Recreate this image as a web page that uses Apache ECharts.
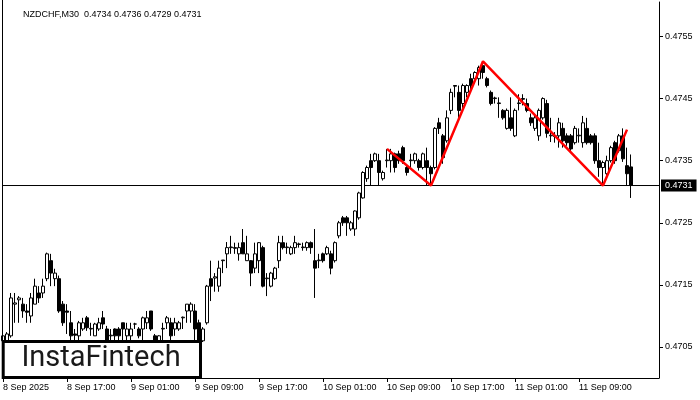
<!DOCTYPE html>
<html><head><meta charset="utf-8">
<script src="https://cdn.jsdelivr.net/npm/echarts@6/dist/echarts.min.js"></script>
<style>html,body{margin:0;padding:0;background:#fff}#c{width:700px;height:400px}</style>
</head><body><div id="c"></div>
<script>
const symbolTitle = 'NZDCHF,M30  0.4734 0.4736 0.4729 0.4731';
const timeTickLabels = ['8 Sep 2025','8 Sep 17:00','9 Sep 01:00','9 Sep 09:00','9 Sep 17:00','10 Sep 01:00','10 Sep 09:00','10 Sep 17:00','11 Sep 01:00','11 Sep 09:00'];
const barsPerTick = 16;
const priceTicks = [0.4705,0.4715,0.4725,0.4735,0.4745,0.4755];
const currentPrice = 0.4731;

const opens = [
0.47060,0.47060,0.47068,0.47119,0.47126,0.47119,0.47108,0.47100,0.47119,0.47137,
0.47137,0.47160,0.47189,0.47160,0.47160,0.47119,0.47108,0.47089,0.47071,0.47068,
0.47079,0.47097,0.47079,0.47068,0.47079,0.47097,0.47079,0.47068,0.47079,0.47079,
0.47089,0.47068,0.47068,0.47087,0.47079,0.47079,0.47089,0.47108,0.47068,0.47060,
0.47079,0.47089,0.47089,0.47079,0.47079,0.47097,0.47108,0.47108,0.47108,0.47089,
0.47060,0.47089,0.47160,0.47161,0.47148,0.47189,0.47200,0.47210,0.47210,0.47200,
0.47218,0.47189,0.47189,0.47177,0.47189,0.47210,0.47160,0.47148,0.47160,0.47189,
0.47218,0.47210,0.47200,0.47210,0.47215,0.47210,0.47210,0.47218,0.47189,0.47189,
0.47200,0.47200,0.47200,0.47189,0.47229,0.47258,0.47258,0.47240,0.47240,0.47258,
0.47290,0.47321,0.47350,0.47350,0.47350,0.47321,0.47350,0.47350,0.47361,0.47361,
0.47371,0.47339,0.47350,0.47350,0.47350,0.47339,0.47350,0.47339,0.47339,0.47411,
0.47390,0.47382,0.47431,0.47471,0.47460,0.47442,0.47460,0.47482,0.47482,0.47482,
0.47503,0.47482,0.47460,0.47450,0.47442,0.47431,0.47402,0.47419,0.47390,0.47442,
0.47450,0.47442,0.47419,0.47402,0.47390,0.47419,0.47442,0.47390,0.47390,0.47390,
0.47402,0.47390,0.47390,0.47379,0.47390,0.47379,0.47402,0.47390,0.47390,0.47350,
0.47339,0.47329,0.47350,0.47379,0.47366,0.47390,0.47342,0.47340];
const closes = [
0.47068,0.47071,0.47129,0.47121,0.47129,0.47108,0.47106,0.47129,0.47148,0.47129,
0.47148,0.47200,0.47169,0.47169,0.47108,0.47089,0.47106,0.47068,0.47069,0.47089,
0.47089,0.47081,0.47080,0.47087,0.47089,0.47087,0.47060,0.47069,0.47068,0.47068,
0.47079,0.47079,0.47079,0.47087,0.47068,0.47097,0.47097,0.47079,0.47060,0.47068,
0.47080,0.47097,0.47068,0.47089,0.47089,0.47098,0.47119,0.47119,0.47079,0.47060,
0.47079,0.47148,0.47148,0.47163,0.47177,0.47190,0.47210,0.47211,0.47209,0.47210,
0.47200,0.47200,0.47169,0.47200,0.47218,0.47148,0.47161,0.47169,0.47177,0.47218,
0.47210,0.47211,0.47210,0.47218,0.47216,0.47211,0.47218,0.47210,0.47177,0.47190,
0.47189,0.47210,0.47177,0.47218,0.47250,0.47250,0.47250,0.47250,0.47269,0.47298,
0.47331,0.47339,0.47339,0.47361,0.47331,0.47331,0.47351,0.47361,0.47339,0.47350,
0.47350,0.47331,0.47351,0.47361,0.47339,0.47361,0.47339,0.47329,0.47402,0.47402,
0.47355,0.47419,0.47460,0.47470,0.47431,0.47471,0.47471,0.47471,0.47492,0.47500,
0.47492,0.47471,0.47442,0.47451,0.47443,0.47419,0.47431,0.47402,0.47431,0.47443,
0.47449,0.47431,0.47411,0.47419,0.47431,0.47450,0.47394,0.47391,0.47389,0.47411,
0.47382,0.47379,0.47369,0.47402,0.47391,0.47411,0.47379,0.47379,0.47350,0.47339,
0.47347,0.47350,0.47371,0.47350,0.47390,0.47353,0.47329,0.47310];
const lows = [
0.47055,0.47058,0.47065,0.47089,0.47089,0.47097,0.47089,0.47089,0.47119,0.47121,
0.47129,0.47156,0.47148,0.47148,0.47105,0.47084,0.47071,0.47060,0.47060,0.47060,
0.47076,0.47076,0.47068,0.47068,0.47076,0.47079,0.47055,0.47060,0.47060,0.47060,
0.47060,0.47060,0.47060,0.47079,0.47064,0.47060,0.47079,0.47076,0.47058,0.47058,
0.47060,0.47079,0.47060,0.47068,0.47076,0.47079,0.47089,0.47089,0.47060,0.47051,
0.47058,0.47086,0.47124,0.47139,0.47139,0.47169,0.47177,0.47200,0.47200,0.47189,
0.47200,0.47189,0.47148,0.47169,0.47169,0.47146,0.47132,0.47146,0.47158,0.47177,
0.47207,0.47200,0.47198,0.47200,0.47210,0.47205,0.47205,0.47200,0.47129,0.47177,
0.47186,0.47198,0.47167,0.47186,0.47225,0.47245,0.47229,0.47237,0.47229,0.47255,
0.47289,0.47316,0.47310,0.47348,0.47310,0.47318,0.47339,0.47331,0.47331,0.47345,
0.47345,0.47326,0.47339,0.47345,0.47334,0.47336,0.47310,0.47310,0.47336,0.47393,
0.47345,0.47379,0.47425,0.47452,0.47417,0.47435,0.47452,0.47460,0.47476,0.47471,
0.47482,0.47468,0.47439,0.47442,0.47419,0.47416,0.47400,0.47398,0.47388,0.47431,
0.47439,0.47428,0.47406,0.47398,0.47382,0.47416,0.47387,0.47380,0.47379,0.47371,
0.47371,0.47374,0.47363,0.47376,0.47379,0.47371,0.47376,0.47376,0.47345,0.47324,
0.47310,0.47324,0.47347,0.47345,0.47363,0.47348,0.47310,0.47290];
const highs = [
0.47071,0.47074,0.47137,0.47137,0.47132,0.47129,0.47119,0.47137,0.47160,0.47148,
0.47160,0.47202,0.47200,0.47176,0.47165,0.47124,0.47119,0.47108,0.47079,0.47092,
0.47097,0.47100,0.47089,0.47089,0.47097,0.47108,0.47084,0.47079,0.47080,0.47082,
0.47089,0.47089,0.47089,0.47089,0.47082,0.47099,0.47108,0.47108,0.47071,0.47069,
0.47089,0.47100,0.47097,0.47097,0.47092,0.47099,0.47119,0.47122,0.47119,0.47094,
0.47082,0.47150,0.47189,0.47169,0.47189,0.47190,0.47219,0.47229,0.47218,0.47218,
0.47240,0.47229,0.47190,0.47218,0.47219,0.47213,0.47169,0.47171,0.47179,0.47229,
0.47229,0.47218,0.47213,0.47229,0.47218,0.47218,0.47220,0.47220,0.47240,0.47200,
0.47202,0.47213,0.47205,0.47220,0.47253,0.47261,0.47261,0.47253,0.47270,0.47300,
0.47333,0.47342,0.47361,0.47363,0.47361,0.47334,0.47369,0.47369,0.47363,0.47366,
0.47374,0.47342,0.47361,0.47363,0.47353,0.47363,0.47371,0.47342,0.47404,0.47419,
0.47393,0.47431,0.47466,0.47471,0.47471,0.47474,0.47473,0.47490,0.47494,0.47503,
0.47510,0.47485,0.47463,0.47453,0.47452,0.47433,0.47434,0.47452,0.47434,0.47457,
0.47457,0.47450,0.47426,0.47422,0.47434,0.47452,0.47448,0.47419,0.47396,0.47419,
0.47411,0.47394,0.47393,0.47406,0.47402,0.47422,0.47419,0.47393,0.47394,0.47379,
0.47350,0.47358,0.47374,0.47382,0.47393,0.47402,0.47371,0.47360];

const patternBars = [96, 107, 120, 150, 156];
const patternPrices = [0.47369, 0.47310, 0.47510, 0.47310, 0.47400];

const emptyBarsRight = 7;
const FONT = 'Liberation Sans';

const nBars = opens.length;
const nSlots = nBars + emptyBarsRight;
const categories = [];
for (let i = 0; i < nSlots; i++) categories.push(String(i));
const candleData = opens.map((o, i) => [o, closes[i], lows[i], highs[i]]);
const patternData = patternBars.map((b, i) => [b, patternPrices[i]]);
const priceLineData = [[0, currentPrice], [nSlots - 1, currentPrice]];
const isTick = (idx) => idx % barsPerTick === 0 && idx / barsPerTick < timeTickLabels.length;

const chart = echarts.init(document.getElementById('c'), null, {renderer: 'canvas'});
chart.setOption({
  animation: false,
  backgroundColor: '#fff',
  title: {
    text: symbolTitle, left: 18, top: 5,
    textStyle: {fontFamily: FONT, fontSize: 9, fontWeight: 'normal', color: '#000'}
  },
  grid: {left: 3, right: 41, top: 2, bottom: 22, containLabel: false},
  xAxis: {
    type: 'category', data: categories, boundaryGap: false,
    axisLine: {show: true, lineStyle: {color: '#000', width: 1}},
    axisTick: {show: true, interval: isTick, length: 4, lineStyle: {color: '#000'}},
    axisLabel: {
      show: true, interval: isTick, align: 'left', margin: 5,
      fontFamily: FONT, fontSize: 9, color: '#000',
      formatter: (v, idx) => timeTickLabels[idx / barsPerTick] || ''
    },
    splitLine: {show: false}
  },
  yAxis: {
    type: 'value', position: 'right',
    min: 0.470001, max: 0.476055,
    axisLine: {show: true, lineStyle: {color: '#000', width: 1}},
    axisTick: {show: true, customValues: priceTicks, length: 4, lineStyle: {color: '#000'}},
    axisLabel: {
      show: true, customValues: priceTicks, margin: 6,
      fontFamily: FONT, fontSize: 9, color: '#000',
      formatter: (v) => v.toFixed(4)
    },
    splitLine: {show: false}
  },
  series: [
    {
      type: 'line', data: priceLineData, symbol: 'none', z: 1, silent: true,
      lineStyle: {color: '#000', width: 1},
      endLabel: {
        show: true, distance: 2,
        formatter: () => currentPrice.toFixed(4),
        fontFamily: FONT, fontSize: 9, color: '#fff',
        backgroundColor: '#000', padding: [2, 4, 1, 4]
      }
    },
    {
      type: 'candlestick', data: candleData, barWidth: 3, clip: false, z: 2,
      itemStyle: {color: '#fff', color0: '#000', borderColor: '#000', borderColor0: '#000', borderWidth: 1}
    },
    {
      type: 'line', data: patternData, symbol: 'none', z: 5,
      lineStyle: {color: '#ff0000', width: 2.5}, silent: true
    }
  ],
  graphic: [
    {type: 'line', shape: {x1: 2.5, y1: 0, x2: 2.5, y2: 378}, style: {stroke: '#000', lineWidth: 1}, z: 10},
    {type: 'rect', shape: {x: 3.2, y: 341.5, width: 197.3, height: 36}, style: {fill: '#fff', stroke: '#000', lineWidth: 3}, z: 20},
    {type: 'text', x: 101, y: 359, z: 21,
     style: {text: 'InstaFintech', fontFamily: 'Roboto', fontSize: 29, fontWeight: 400, fill: '#1a1a1a', align: 'center', verticalAlign: 'middle'}}
  ]
});
</script></body></html>
